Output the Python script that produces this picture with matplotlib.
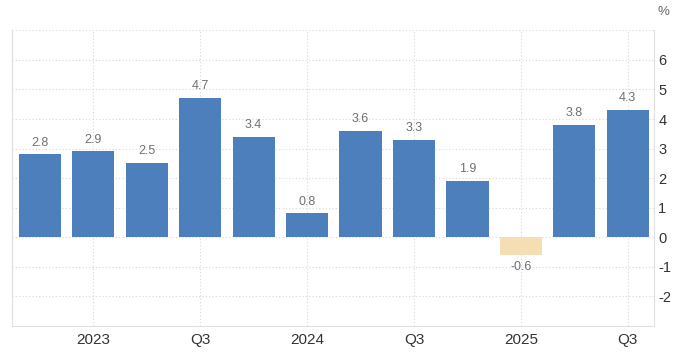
import numpy as np
import matplotlib
matplotlib.use("Agg")
import matplotlib.pyplot as plt

plt.rcParams['font.family'] = ['Liberation Sans', 'DejaVu Sans']

# quarterly values, Q4 2022 .. Q3 2025
quarters = ["Q4 2022", "Q1 2023", "Q2 2023", "Q3 2023", "Q4 2023", "Q1 2024",
            "Q2 2024", "Q3 2024", "Q4 2024", "Q1 2025", "Q2 2025", "Q3 2025"]
values = [2.8, 2.9, 2.5, 4.7, 3.4, 0.8, 3.6, 3.3, 1.9, -0.6, 3.8, 4.3]
tick_pos = [1, 3, 5, 7, 9, 11]
tick_labels = ["2023", "Q3", "2024", "Q3", "2025", "Q3"]
y_ticks = [-2, -1, 0, 1, 2, 3, 4, 5, 6]

blue = "#4d7fbd"
neg = "#f5deb3"

fig = plt.figure(figsize=(6.78, 3.54), dpi=100)
ax = fig.add_axes([0.0177, 0.080, 0.9469, 0.834])

x = np.arange(len(values))
colors = [blue if v >= 0 else neg for v in values]
ax.bar(x, values, width=0.79, color=colors, zorder=3)

for xi, v in zip(x, values):
    if v >= 0:
        ax.text(xi, v + 0.2, f"{v}", ha="center", va="bottom", fontsize=9, color="#707070")
    else:
        ax.text(xi, v - 0.22, f"{v}", ha="center", va="top", fontsize=9, color="#707070")

ax.set_xlim(-0.52, 11.49)
ax.set_ylim(-3, 7)
ax.set_yticks(y_ticks)
ax.set_yticklabels([str(t) for t in y_ticks])
ax.set_yticks([-3, 7], minor=True)
ax.set_xticks(tick_pos)
ax.set_xticklabels(tick_labels)
ax.yaxis.tick_right()
ax.tick_params(axis="y", which="both", length=0, pad=3, labelsize=10.5, labelcolor="#333333")
ax.tick_params(axis="x", length=0, pad=5, labelsize=11, labelcolor="#333333")

ax.grid(True, which="both", linestyle=(0, (1, 2)), color="#d8d8d8", linewidth=0.8, zorder=0)
for side in ["left", "bottom", "right"]:
    ax.spines[side].set_color("#e0e0e0")
ax.spines["top"].set_visible(False)

fig.text(0.978, 0.965, "%", ha="center", va="center", fontsize=9.5, color="#666666")

fig.savefig("out.png", dpi=100)
